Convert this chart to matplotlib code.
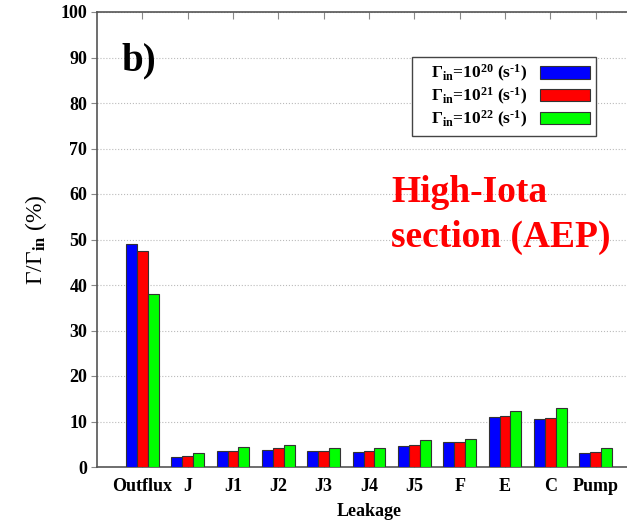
import matplotlib
matplotlib.use('Agg')
import matplotlib.pyplot as plt
import numpy as np

# data
categorias = ['Outflux', 'J', 'J1', 'J2', 'J3', 'J4', 'J5', 'F', 'E', 'C', 'Pump']
gamma20 = [49.0, 2.3, 3.5, 3.8, 3.5, 3.3, 4.6, 5.4, 11.0, 10.6, 3.1]
gamma21 = [47.5, 2.4, 3.6, 4.1, 3.6, 3.5, 4.9, 5.6, 11.1, 10.8, 3.4]
gamma22 = [38.0, 3.0, 4.3, 4.9, 4.2, 4.1, 5.9, 6.1, 12.2, 13.0, 4.1]
exponentes = ['20', '21', '22']
colores = ['#0000ff', '#ff0000', '#00ff00']

plt.rcParams['font.family'] = 'Liberation Serif'
plt.rcParams['mathtext.fontset'] = 'custom'
plt.rcParams['mathtext.rm'] = 'Liberation Serif'
plt.rcParams['mathtext.it'] = 'Liberation Serif:italic'
plt.rcParams['mathtext.bf'] = 'Liberation Serif:bold'

fig = plt.figure(figsize=(6.27, 5.21), dpi=100)
ax = fig.add_axes([97/627, 54/521, 544/627, 455/521])

x = np.arange(len(categorias))
ancho = 0.24
for i, (serie, color, exp) in enumerate(zip([gamma20, gamma21, gamma22], colores, exponentes)):
	etq = r'   $\mathbf{\Gamma_{in}}$=10$^{\mathbf{' + exp + r'}}$ (s$^{\mathbf{\text{-}1}}$)'
	ax.bar(x + (i - 1) * ancho, serie, ancho, color=color, edgecolor='#333333',
		linewidth=0.8, label=etq, zorder=3)

ax.set_xlim(-1, 11)
ax.set_ylim(0, 100)
ax.set_yticks(np.arange(0, 101, 10))
ax.set_xticks(x)
ax.set_xticklabels(categorias, fontweight='bold', fontsize=13)
for t in ax.get_yticklabels():
	t.set_fontweight('bold')
	t.set_fontsize(13)
ax.tick_params(axis='y', direction='out', length=4, color='#888888', pad=3)
ax.tick_params(axis='x', direction='in', length=0, pad=8, top=True)
ax.tick_params(axis='x', which='major', top=True, length=5, color='#888888')
ax.yaxis.grid(True, linestyle=':', color='#bbbbbb', linewidth=0.8, zorder=0)
for s in ax.spines.values():
	s.set_color('#555555')
	s.set_linewidth(1.2)

ax.set_xlabel('Leakage', fontweight='bold', fontsize=13, labelpad=6)
ax.set_ylabel(r'$\Gamma/\Gamma_{\mathbf{in}}$ (%)', fontsize=17, labelpad=8)

fig.text(121/627, 1 - 70/521, 'b)', fontsize=28, fontweight='bold',
	va='baseline', ha='left')
fig.text(391/627, 1 - 202/521, 'High-Iota', fontsize=27, fontweight='bold',
	color='red', va='baseline', ha='left')
fig.text(391/627, 1 - 247/521, 'section (AEP)', fontsize=27, fontweight='bold',
	color='red', va='baseline', ha='left')

leg = ax.legend(loc='upper right', bbox_to_anchor=(596/627, 1 - 57/521),
	bbox_transform=fig.transFigure, prop={'weight': 'bold', 'size': 12.5},
	markerfirst=False, fancybox=False, framealpha=1, edgecolor='#444444',
	handlelength=2.9, handleheight=0.75, labelspacing=0.1, borderpad=0.35,
	handletextpad=0.7, borderaxespad=0)
leg.get_frame().set_linewidth(1.0)

fig.savefig('out.png', dpi=100)
